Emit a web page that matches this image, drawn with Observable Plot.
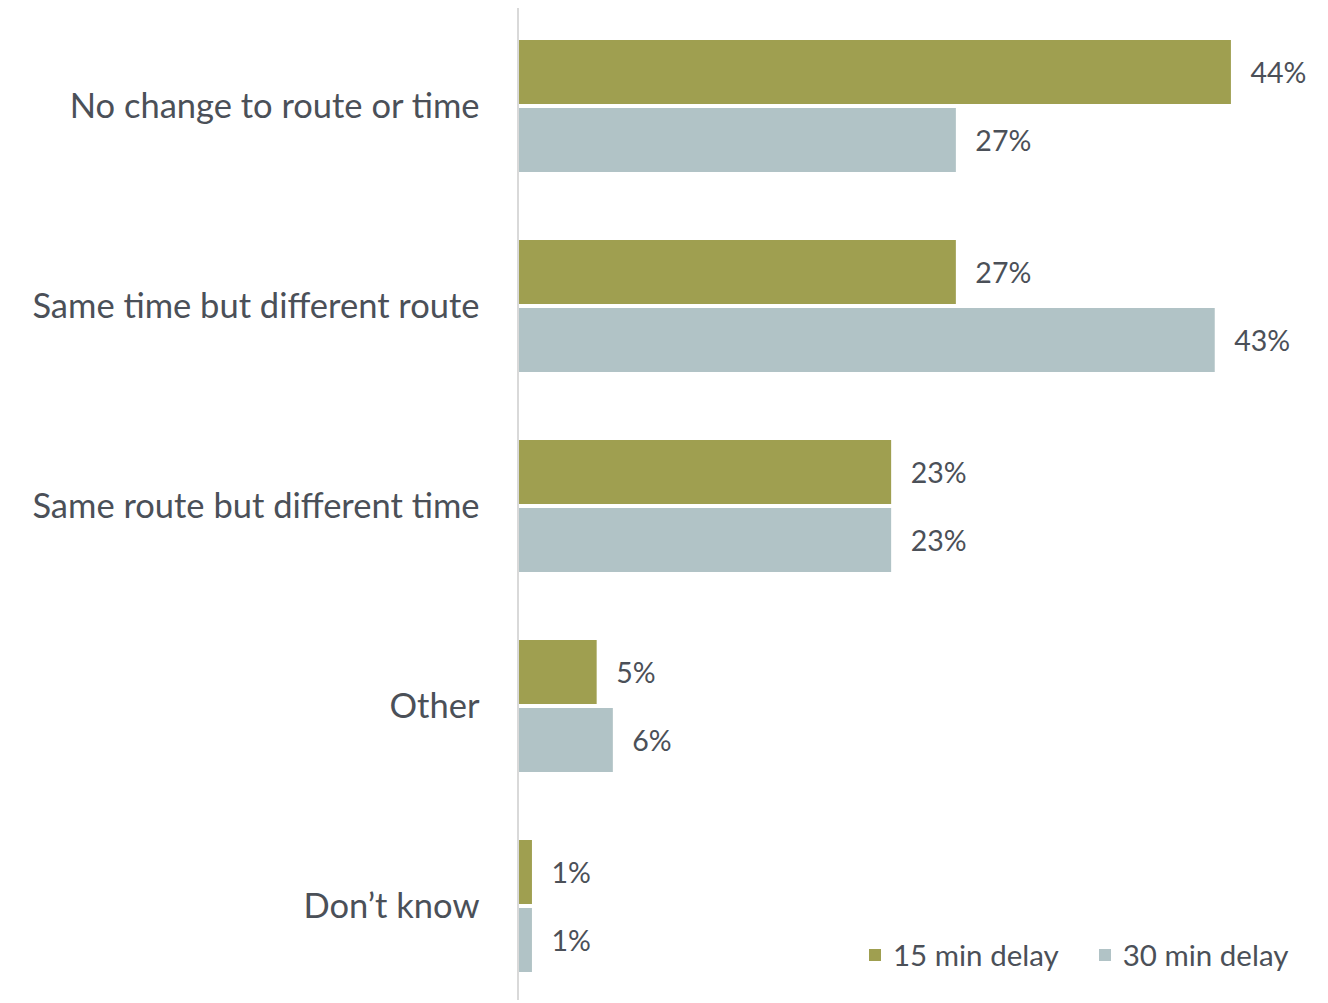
<!DOCTYPE html>
<html>
<head>
<meta charset="utf-8">
<script src="https://cdn.jsdelivr.net/npm/d3@7"></script>
<script src="https://cdn.jsdelivr.net/npm/@observablehq/plot@0.6"></script>
<style>
  html, body { margin: 0; padding: 0; background: #ffffff; }
  #wrap { position: relative; width: 1328px; height: 1003px; font-family: Lato, "Open Sans", sans-serif; }
  #legend { position: absolute; top: 936px; left: 869px; display: flex; align-items: center; font-size: 29.5px; line-height: 38px; color: #4b5058; white-space: nowrap; }
  #legend .item { display: flex; align-items: center; }
  #legend .sw { width: 12px; height: 12px; margin-right: 12px; display: inline-block; }
  #legend .item + .item { margin-left: 40px; }
</style>
</head>
<body>
<div id="wrap"></div>
<script>
const categories = [
  "No change to route or time",
  "Same time but different route",
  "Same route but different time",
  "Other",
  "Don’t know"
];
const seriesNames = ["15 min delay", "30 min delay"];
const values15 = [44, 27, 23, 4.8, 0.8];
const values30 = [27, 43, 23, 5.8, 0.8];
const colors = ["#9f9f50", "#b1c3c6"];

const rows = [];
categories.forEach((c, i) => {
  rows.push({category: c, series: seriesNames[0], value: values15[i]});
  rows.push({category: c, series: seriesNames[1], value: values30[i]});
});
const first = rows.filter(d => d.series === seriesNames[0]);
const second = rows.filter(d => d.series === seriesNames[1]);
const fmt = d => Math.round(d.value) + "%";
const textColor = "#4b5058";

const chart = Plot.plot({
  width: 1328,
  height: 1003,
  marginLeft: 519,
  marginRight: 0,
  marginTop: 8,
  marginBottom: 3,
  style: {fontFamily: "Lato, 'Open Sans', sans-serif", background: "#ffffff", color: textColor},
  x: {domain: [0, 50], axis: null},
  y: {domain: categories, paddingInner: 0.3, paddingOuter: 0.13, align: 0.54, label: null},
  color: {domain: seriesNames, range: colors},
  marks: [
    Plot.axisY({tickSize: 0, tickPadding: 40, fontSize: 34.5, fill: textColor, label: null}),
    Plot.barX(first, {x: "value", y: "category", fill: "series", insetTop: 4, insetBottom: 72}),
    Plot.barX(second, {x: "value", y: "category", fill: "series", insetTop: 72, insetBottom: 4}),
    Plot.text(first, {x: "value", y: "category", text: fmt, dx: 19, dy: -33, textAnchor: "start", fontSize: 28.5, fill: textColor}),
    Plot.text(second, {x: "value", y: "category", text: fmt, dx: 19, dy: 35, textAnchor: "start", fontSize: 28.5, fill: textColor}),
    Plot.ruleX([0], {stroke: "#d9d9d9", strokeWidth: 2, dx: -1.5})
  ]
});

const wrap = document.getElementById("wrap");
wrap.appendChild(chart);

const legend = document.createElement("div");
legend.id = "legend";
seriesNames.forEach((s, i) => {
  const item = document.createElement("span");
  item.className = "item";
  const sw = document.createElement("span");
  sw.className = "sw";
  sw.style.background = colors[i];
  const t = document.createElement("span");
  t.textContent = s;
  item.appendChild(sw);
  item.appendChild(t);
  legend.appendChild(item);
});
wrap.appendChild(legend);
</script>
</body>
</html>
